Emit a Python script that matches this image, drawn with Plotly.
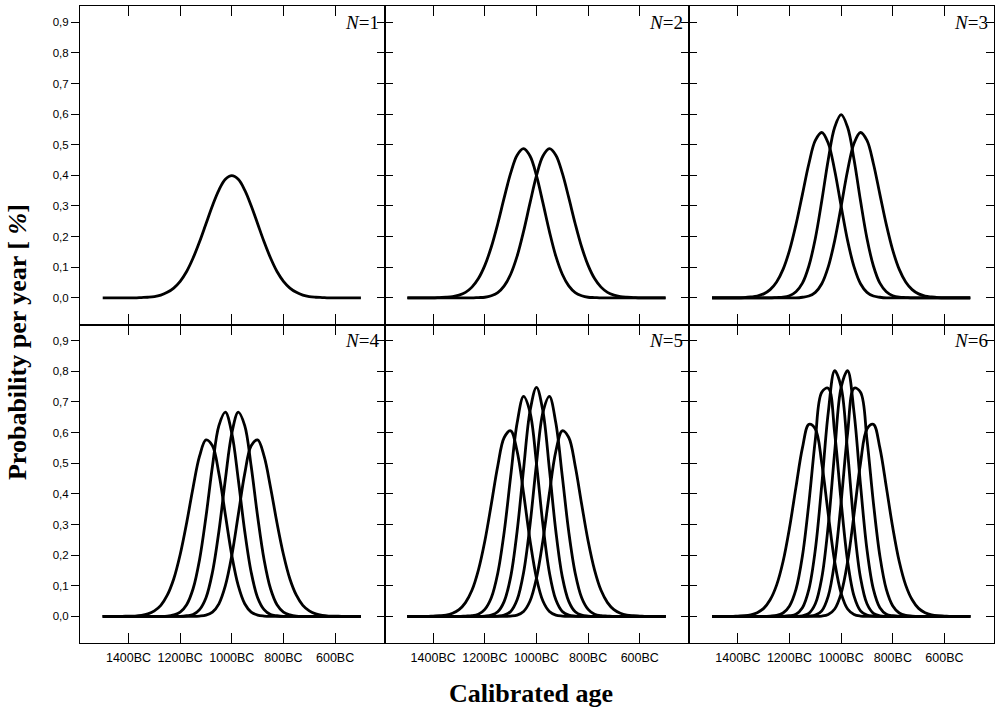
import plotly.graph_objects as go
from plotly.subplots import make_subplots

# ---------------- data ----------------
years_bc = [1500, 1475, 1450, 1425, 1400, 1375, 1350, 1325, 1300, 1275, 1250,
            1225, 1200, 1175, 1150, 1125, 1100, 1075, 1050, 1025, 1000, 975,
            950, 925, 900, 875, 850, 825, 800, 775, 750, 725, 700, 675, 650,
            625, 600, 575, 550, 525, 500]

x_tick_vals = [1400, 1200, 1000, 800, 600]
x_tick_text = ["1400BC", "1200BC", "1000BC", "800BC", "600BC"]
y_tick_vals = [0.0, 0.1, 0.2, 0.3, 0.4, 0.5, 0.6, 0.7, 0.8, 0.9]
y_tick_text = ["0,0", "0,1", "0,2", "0,3", "0,4", "0,5", "0,6", "0,7", "0,8", "0,9"]
panel_labels = ["<i>N</i>=1", "<i>N</i>=2", "<i>N</i>=3", "<i>N</i>=4", "<i>N</i>=5", "<i>N</i>=6"]

# probability per year [%]
n1_c1 = [0, 0, 0, 0, 0, 0, 0.001, 0.002, 0.004, 0.009, 0.018, 0.032, 0.054, 0.086, 0.130, 0.183, 0.242, 0.301, 0.352, 0.387, 0.399, 0.387, 0.352, 0.301, 0.242, 0.183, 0.130, 0.086, 0.054, 0.032, 0.018, 0.009, 0.004, 0.002, 0.001, 0, 0, 0, 0, 0, 0]

n2_c1 = [0, 0, 0, 0, 0, 0.001, 0.002, 0.004, 0.009, 0.018, 0.035, 0.063, 0.106, 0.166, 0.242, 0.327, 0.407, 0.466, 0.487, 0.463, 0.399, 0.310, 0.217, 0.136, 0.077, 0.039, 0.017, 0.007, 0.002, 0.001, 0, 0, 0, 0, 0, 0, 0, 0, 0, 0, 0]
n2_c2 = [0, 0, 0, 0, 0, 0, 0, 0, 0, 0, 0, 0.001, 0.002, 0.007, 0.017, 0.039, 0.077, 0.136, 0.217, 0.310, 0.399, 0.463, 0.487, 0.466, 0.407, 0.327, 0.242, 0.166, 0.106, 0.063, 0.035, 0.018, 0.009, 0.004, 0.002, 0.001, 0, 0, 0, 0, 0]

n3_c1 = [0, 0, 0, 0, 0, 0.001, 0.003, 0.006, 0.013, 0.027, 0.052, 0.093, 0.155, 0.239, 0.338, 0.438, 0.514, 0.540, 0.505, 0.416, 0.299, 0.187, 0.101, 0.046, 0.018, 0.006, 0.002, 0, 0, 0, 0, 0, 0, 0, 0, 0, 0, 0, 0, 0, 0]
n3_c2 = [0, 0, 0, 0, 0, 0, 0, 0, 0, 0, 0.001, 0.002, 0.007, 0.020, 0.048, 0.104, 0.194, 0.317, 0.451, 0.557, 0.598, 0.557, 0.451, 0.317, 0.194, 0.104, 0.048, 0.020, 0.007, 0.002, 0.001, 0, 0, 0, 0, 0, 0, 0, 0, 0, 0]
n3_c3 = [0, 0, 0, 0, 0, 0, 0, 0, 0, 0, 0, 0, 0, 0, 0.002, 0.006, 0.018, 0.046, 0.101, 0.187, 0.299, 0.416, 0.505, 0.540, 0.514, 0.438, 0.338, 0.239, 0.155, 0.093, 0.052, 0.027, 0.013, 0.006, 0.003, 0.001, 0, 0, 0, 0, 0]

n4_c1 = [0, 0, 0, 0, 0.001, 0.001, 0.003, 0.008, 0.018, 0.036, 0.069, 0.122, 0.202, 0.305, 0.421, 0.523, 0.576, 0.557, 0.466, 0.332, 0.199, 0.100, 0.041, 0.014, 0.004, 0.001, 0, 0, 0, 0, 0, 0, 0, 0, 0, 0, 0, 0, 0, 0, 0]
n4_c2 = [0, 0, 0, 0, 0, 0, 0, 0, 0, 0, 0.001, 0.005, 0.014, 0.038, 0.090, 0.185, 0.326, 0.490, 0.623, 0.667, 0.598, 0.447, 0.278, 0.144, 0.061, 0.022, 0.006, 0.002, 0, 0, 0, 0, 0, 0, 0, 0, 0, 0, 0, 0, 0]
n4_c3 = [0, 0, 0, 0, 0, 0, 0, 0, 0, 0, 0, 0, 0, 0.002, 0.006, 0.022, 0.061, 0.144, 0.278, 0.447, 0.598, 0.667, 0.623, 0.490, 0.326, 0.185, 0.090, 0.038, 0.014, 0.005, 0.001, 0, 0, 0, 0, 0, 0, 0, 0, 0, 0]
n4_c4 = [0, 0, 0, 0, 0, 0, 0, 0, 0, 0, 0, 0, 0, 0, 0, 0.001, 0.004, 0.014, 0.041, 0.100, 0.199, 0.332, 0.466, 0.557, 0.576, 0.523, 0.421, 0.305, 0.202, 0.122, 0.069, 0.036, 0.018, 0.008, 0.003, 0.001, 0.001, 0, 0, 0, 0]

n5_c1 = [0, 0, 0, 0, 0.001, 0.002, 0.004, 0.010, 0.022, 0.045, 0.085, 0.151, 0.246, 0.366, 0.491, 0.584, 0.606, 0.539, 0.402, 0.248, 0.125, 0.050, 0.016, 0.004, 0.001, 0, 0, 0, 0, 0, 0, 0, 0, 0, 0, 0, 0, 0, 0, 0, 0]
n5_c2 = [0, 0, 0, 0, 0, 0, 0, 0, 0, 0.001, 0.002, 0.007, 0.023, 0.061, 0.141, 0.276, 0.457, 0.631, 0.718, 0.666, 0.499, 0.299, 0.143, 0.054, 0.016, 0.004, 0.001, 0, 0, 0, 0, 0, 0, 0, 0, 0, 0, 0, 0, 0, 0]
n5_c3 = [0, 0, 0, 0, 0, 0, 0, 0, 0, 0, 0, 0, 0.001, 0.004, 0.015, 0.049, 0.129, 0.278, 0.481, 0.670, 0.748, 0.670, 0.481, 0.278, 0.129, 0.049, 0.015, 0.004, 0.001, 0, 0, 0, 0, 0, 0, 0, 0, 0, 0, 0, 0]
n5_c4 = [0, 0, 0, 0, 0, 0, 0, 0, 0, 0, 0, 0, 0, 0, 0.001, 0.004, 0.016, 0.054, 0.143, 0.299, 0.499, 0.666, 0.718, 0.631, 0.457, 0.276, 0.141, 0.061, 0.023, 0.007, 0.002, 0.001, 0, 0, 0, 0, 0, 0, 0, 0, 0]
n5_c5 = [0, 0, 0, 0, 0, 0, 0, 0, 0, 0, 0, 0, 0, 0, 0, 0, 0.001, 0.004, 0.016, 0.050, 0.125, 0.248, 0.402, 0.539, 0.606, 0.584, 0.491, 0.366, 0.246, 0.151, 0.085, 0.045, 0.022, 0.010, 0.004, 0.002, 0.001, 0, 0, 0, 0]

n6_c1 = [0, 0, 0, 0, 0.001, 0.002, 0.005, 0.012, 0.026, 0.054, 0.102, 0.179, 0.289, 0.422, 0.550, 0.627, 0.612, 0.500, 0.334, 0.178, 0.075, 0.024, 0.006, 0.001, 0, 0, 0, 0, 0, 0, 0, 0, 0, 0, 0, 0, 0, 0, 0, 0, 0]
n6_c2 = [0, 0, 0, 0, 0, 0, 0, 0, 0, 0.001, 0.003, 0.011, 0.034, 0.088, 0.197, 0.370, 0.577, 0.732, 0.745, 0.598, 0.374, 0.180, 0.066, 0.018, 0.004, 0.001, 0, 0, 0, 0, 0, 0, 0, 0, 0, 0, 0, 0, 0, 0, 0]
n6_c3 = [0, 0, 0, 0, 0, 0, 0, 0, 0, 0, 0, 0, 0.002, 0.007, 0.028, 0.088, 0.218, 0.429, 0.665, 0.802, 0.748, 0.537, 0.297, 0.126, 0.041, 0.010, 0.002, 0, 0, 0, 0, 0, 0, 0, 0, 0, 0, 0, 0, 0, 0]
n6_c4 = [0, 0, 0, 0, 0, 0, 0, 0, 0, 0, 0, 0, 0, 0, 0.002, 0.010, 0.041, 0.126, 0.297, 0.537, 0.748, 0.802, 0.665, 0.429, 0.218, 0.088, 0.028, 0.007, 0.002, 0, 0, 0, 0, 0, 0, 0, 0, 0, 0, 0, 0]
n6_c5 = [0, 0, 0, 0, 0, 0, 0, 0, 0, 0, 0, 0, 0, 0, 0, 0.001, 0.004, 0.018, 0.066, 0.180, 0.374, 0.598, 0.745, 0.732, 0.577, 0.370, 0.197, 0.088, 0.034, 0.011, 0.003, 0.001, 0, 0, 0, 0, 0, 0, 0, 0, 0]
n6_c6 = [0, 0, 0, 0, 0, 0, 0, 0, 0, 0, 0, 0, 0, 0, 0, 0, 0, 0.001, 0.006, 0.024, 0.075, 0.178, 0.334, 0.500, 0.612, 0.627, 0.550, 0.422, 0.289, 0.179, 0.102, 0.054, 0.026, 0.012, 0.005, 0.002, 0.001, 0, 0, 0, 0]

panels = [
    [n1_c1],
    [n2_c1, n2_c2],
    [n3_c1, n3_c2, n3_c3],
    [n4_c1, n4_c2, n4_c3, n4_c4],
    [n5_c1, n5_c2, n5_c3, n5_c4, n5_c5],
    [n6_c1, n6_c2, n6_c3, n6_c4, n6_c5, n6_c6],
]

# ---------------- figure ----------------
fig = make_subplots(rows=2, cols=3, horizontal_spacing=0, vertical_spacing=0)

for i, curves in enumerate(panels):
    r, c = i // 3 + 1, i % 3 + 1
    for ys in curves:
        fig.add_trace(go.Scatter(x=years_bc, y=ys, mode="lines",
                                 line=dict(color="black", width=2.8, shape="spline", smoothing=1.0),
                                 showlegend=False, hoverinfo="skip"),
                      row=r, col=c)

Y_RANGE = [-0.087, 0.953]
X_RANGE = [1588, 408]
AXIS_LW = 1.1

fig.update_xaxes(range=X_RANGE, tickmode="array", tickvals=x_tick_vals, ticktext=x_tick_text,
                 ticks="inside", ticklen=10, tickwidth=1.3, tickcolor="black",
                 showline=True, linecolor="black", linewidth=AXIS_LW, mirror="ticks",
                 showgrid=False, zeroline=False, ticklabelstandoff=3,
                 tickfont=dict(family="Liberation Sans, Arial", size=12.5, color="black"))
fig.update_xaxes(showticklabels=False, row=1)

fig.update_yaxes(range=Y_RANGE, tickmode="array", tickvals=y_tick_vals, ticktext=y_tick_text,
                 ticks="inside", ticklen=8, tickwidth=1.3, tickcolor="black",
                 showline=True, linecolor="black", linewidth=AXIS_LW, mirror="ticks",
                 showgrid=False, zeroline=False, showticklabels=False,
                 tickfont=dict(family="Liberation Sans, Arial", size=11.5, color="black"))
# leftmost column: outside ticks with labels on the left
fig.update_yaxes(ticks="outside", mirror=True, showticklabels=True, col=1)

# overlay axes giving inside ticks on the right edge of the left column
for base_y, base_x, name in [("y", "x", "yaxis7"), ("y4", "x4", "yaxis8")]:
    fig.layout[name] = dict(overlaying=base_y, anchor=base_x, side="right", range=Y_RANGE,
                            tickmode="array", tickvals=y_tick_vals, ticks="inside", ticklen=8,
                            tickwidth=1.3, tickcolor="black", showline=False, showgrid=False,
                            zeroline=False, showticklabels=False)
fig.add_trace(go.Scatter(x=[], y=[], xaxis="x", yaxis="y7", showlegend=False, hoverinfo="skip"))
fig.add_trace(go.Scatter(x=[], y=[], xaxis="x4", yaxis="y8", showlegend=False, hoverinfo="skip"))

# panel labels
for i, lab in enumerate(panel_labels):
    n = i + 1
    xr = "x domain" if n == 1 else f"x{n} domain"
    yr = "y" if n == 1 else f"y{n}"
    fig.add_annotation(text=lab, xref=xr, yref=yr, x=1, y=0.9, xanchor="right", yanchor="middle",
                       xshift=-4, showarrow=False,
                       font=dict(family="Liberation Serif, Times New Roman", size=19, color="black"))

# axis titles
fig.add_annotation(text="<b>Calibrated age</b>", xref="paper", yref="paper", x=0.5, y=0,
                   xanchor="center", yanchor="middle", xshift=-6, yshift=-50, showarrow=False,
                   font=dict(family="Liberation Serif, Times New Roman", size=26, color="black"))
fig.add_annotation(text="<b>Probability per year [ <i>%</i>]</b>", xref="paper", yref="paper",
                   x=0, y=0.4725, xanchor="center", yanchor="middle", xshift=-63, textangle=-90,
                   showarrow=False,
                   font=dict(family="Liberation Serif, Times New Roman", size=26, color="black"))

fig.update_layout(width=999, height=710, margin=dict(l=80, r=5, t=6, b=67),
                  plot_bgcolor="white", paper_bgcolor="white", showlegend=False)

fig.write_html("out.html")
